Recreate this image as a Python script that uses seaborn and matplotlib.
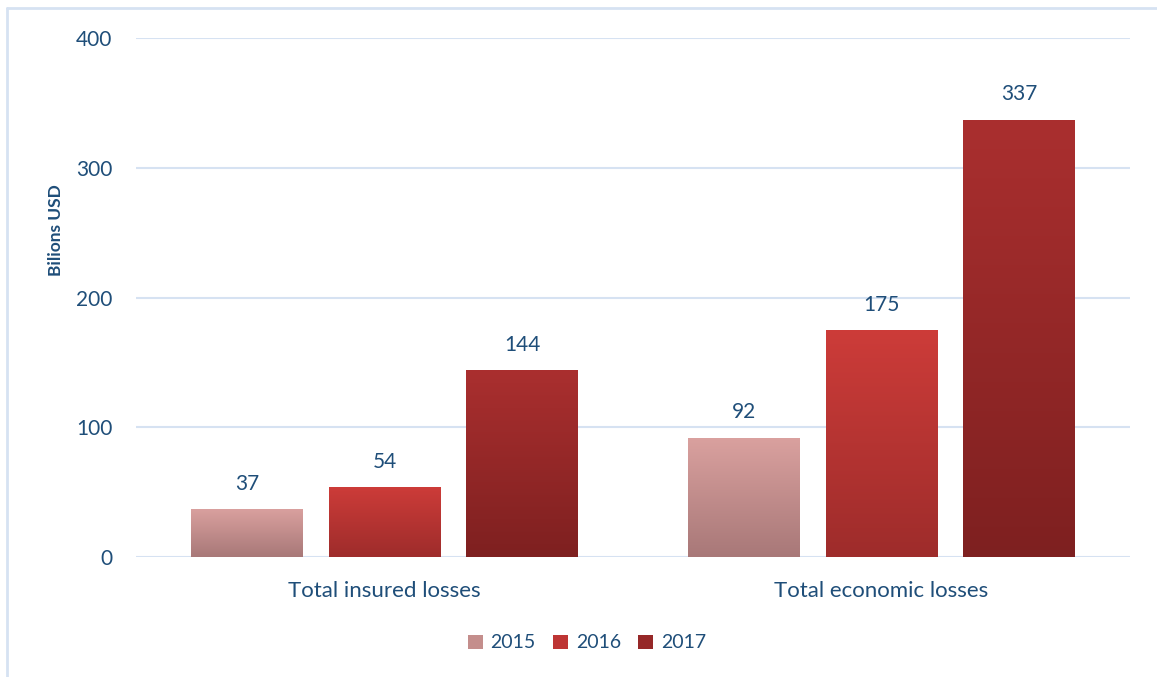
import numpy as np
import pandas as pd
import seaborn as sns
import matplotlib.pyplot as plt
from matplotlib.colors import LinearSegmentedColormap
from matplotlib.patches import Patch
from matplotlib.lines import Line2D

categories = ['Total insured losses', 'Total economic losses']
years = ['2015', '2016', '2017']
v2015 = [37, 92]
v2016 = [54, 175]
v2017 = [144, 337]

# gradient colours per year (top, bottom)
grad = {'2015': ('#DAA19F', '#A87878'),
        '2016': ('#CD3C39', '#9E2C2B'),
        '2017': ('#AA2F2F', '#7E2020')}
txt = '#1F4E79'
gridc = '#D6E2F2'

rows = []
for i, c in enumerate(categories):
    rows.append([c, '2015', v2015[i]])
    rows.append([c, '2016', v2016[i]])
    rows.append([c, '2017', v2017[i]])
df = pd.DataFrame(rows, columns=['Category', 'Year', 'Value'])

sns.set_style('white')
plt.rcParams['font.family'] = ['Lato', 'DejaVu Sans']

fig = plt.figure(figsize=(11.57, 6.77), dpi=100)
ax = fig.add_axes([136/1157, 1-557/677, (1130-136)/1157, (557-38)/677])

pal = {y: grad[y][0] for y in years}
sns.barplot(data=df, x='Category', y='Value', hue='Year', hue_order=years,
            palette=pal, width=0.83, gap=0.19, ax=ax, legend=False,
            edgecolor='none', linewidth=0)

for y in [0, 100, 200, 300, 400]:
    ax.axhline(y, color=gridc, lw=1.5, zorder=0)
for s in ax.spines.values():
    s.set_visible(False)

# gradient fill in each bar
for bar_group, y in zip(ax.containers, years):
    cmap = LinearSegmentedColormap.from_list('g' + y, [grad[y][1], grad[y][0]])
    for p in bar_group.patches:
        x0, y0 = p.get_x(), p.get_y()
        w, h = p.get_width(), p.get_height()
        img = ax.imshow(np.linspace(0, 1, 256).reshape(-1, 1), cmap=cmap,
                        origin='lower', aspect='auto',
                        extent=[x0, x0 + w, y0, y0 + h], zorder=2)
        img.set_clip_path(p)
        p.set_facecolor('none')
        ax.annotate(f'{int(h)}', (x0 + w/2, y0 + h), xytext=(0, 11),
                    textcoords='offset points', ha='center', va='bottom',
                    fontsize=15, color=txt)
ax.set_xlim(-0.5, 1.5)
ax.set_ylim(0, 400)
ax.set_yticks([0, 100, 200, 300, 400])

ax.tick_params(axis='y', length=0, pad=17, labelsize=15, labelcolor=txt)
ax.tick_params(axis='x', length=0, pad=17, labelsize=16, labelcolor=txt)
ax.set_xlabel('')
ax.set_ylabel('Bilions USD', fontsize=12.5, fontweight='bold', color=txt)
ax.yaxis.set_label_coords(-0.072, 0.63)

handles = [Patch(facecolor=c, edgecolor='none') for c in ['#C48E8C', '#BE3534', '#962828']]
fig.legend(handles, years, loc='center', bbox_to_anchor=(587/1157, 1-643/677),
           ncol=3, frameon=False, fontsize=14, labelcolor=txt,
           handlelength=0.75, handleheight=0.75, handletextpad=0.4, columnspacing=0.9)

# chart-area border (top and left visible)
fig.add_artist(Line2D([7/1157, 7/1157], [0, 1-8/677], transform=fig.transFigure,
                      color=gridc, lw=2))
fig.add_artist(Line2D([7/1157, 1], [1-8/677, 1-8/677], transform=fig.transFigure,
                      color=gridc, lw=2))

fig.savefig('out.png', dpi=100)
